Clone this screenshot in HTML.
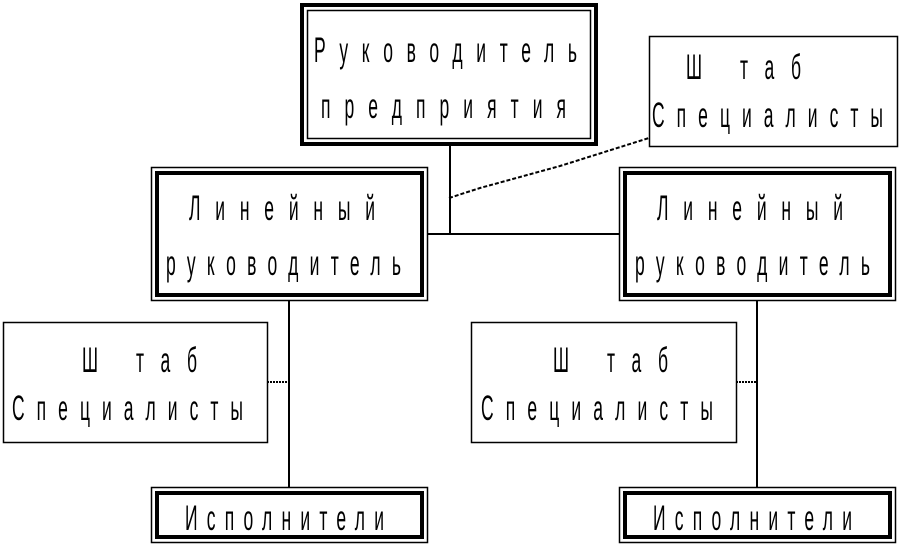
<!DOCTYPE html>
<html><head><meta charset="utf-8"><style>
html,body{margin:0;padding:0;background:#fff;}
svg{display:block}
text{font-family:"Liberation Sans",sans-serif;font-size:35px;fill:#000;}
</style></head><body>
<svg width="916" height="546" viewBox="0 0 916 546" xmlns="http://www.w3.org/2000/svg">
<g fill="none" stroke="#000">
<rect x="302" y="5" width="294" height="139" stroke-width="4"/>
<rect x="307.5" y="10.5" width="283" height="128" stroke-width="1.5"/>
<rect x="151.5" y="167.5" width="276" height="133" stroke-width="1.5"/>
<rect x="157" y="173" width="265" height="122" stroke-width="4"/>
<rect x="619.5" y="167.5" width="276" height="133" stroke-width="1.5"/>
<rect x="625" y="173" width="265" height="122" stroke-width="4"/>
<rect x="649.5" y="36.5" width="248" height="110" stroke-width="1.5"/>
<rect x="3.5" y="322.5" width="264" height="120" stroke-width="1.5"/>
<rect x="471.5" y="322.5" width="265" height="120" stroke-width="1.5"/>
<rect x="151.5" y="487.5" width="276" height="55" stroke-width="1.5"/>
<rect x="157" y="493" width="265" height="44" stroke-width="4"/>
<rect x="619.5" y="487.5" width="276" height="55" stroke-width="1.5"/>
<rect x="625" y="493" width="265" height="44" stroke-width="4"/>
<line x1="450" y1="144" x2="450" y2="235" stroke-width="2"/>
<line x1="428" y1="234" x2="620" y2="234" stroke-width="2"/>
<path d="M449 198 L480 188 L560 166 L649 138" stroke-width="2" stroke-dasharray="4,2"/>
<line x1="289" y1="301" x2="289" y2="487" stroke-width="2"/>
<line x1="267" y1="382" x2="289" y2="382" stroke-width="2" stroke-dasharray="2,1"/>
<line x1="757" y1="301" x2="757" y2="487" stroke-width="2"/>
<line x1="736" y1="382" x2="757" y2="382" stroke-width="2" stroke-dasharray="2,1"/>
</g>
<g transform="translate(314,62) scale(0.5,1)"><text x="0" y="0" textLength="526" lengthAdjust="spacing">Руководитель</text></g>
<g transform="translate(321,118) scale(0.5,1)"><text x="0" y="0" textLength="490" lengthAdjust="spacing">предприятия</text></g>
<g transform="translate(189,220) scale(0.5,1)"><text x="0" y="0" textLength="372" lengthAdjust="spacing">Линейный</text></g>
<g transform="translate(166,275) scale(0.5,1)"><text x="0" y="0" textLength="470" lengthAdjust="spacing">руководитель</text></g>
<g transform="translate(657,220) scale(0.5,1)"><text x="0" y="0" textLength="372" lengthAdjust="spacing">Линейный</text></g>
<g transform="translate(635,275) scale(0.5,1)"><text x="0" y="0" textLength="470" lengthAdjust="spacing">руководитель</text></g>
<g transform="translate(686,79) scale(0.5,1)"><text x="0" y="0">Ш</text><text x="108" y="0" textLength="122" lengthAdjust="spacing">таб</text></g>
<g transform="translate(652,127) scale(0.5,1)"><text x="0" y="0" textLength="462" lengthAdjust="spacing">Специалисты</text></g>
<g transform="translate(82,372) scale(0.5,1)"><text x="0" y="0">Ш</text><text x="108" y="0" textLength="122" lengthAdjust="spacing">таб</text></g>
<g transform="translate(12,420) scale(0.5,1)"><text x="0" y="0" textLength="462" lengthAdjust="spacing">Специалисты</text></g>
<g transform="translate(553,372) scale(0.5,1)"><text x="0" y="0">Ш</text><text x="108" y="0" textLength="122" lengthAdjust="spacing">таб</text></g>
<g transform="translate(481,420) scale(0.5,1)"><text x="0" y="0" textLength="464" lengthAdjust="spacing">Специалисты</text></g>
<g transform="translate(185,530) scale(0.5,1)"><text x="0" y="0" textLength="398" lengthAdjust="spacing">Исполнители</text></g>
<g transform="translate(653,530) scale(0.5,1)"><text x="0" y="0" textLength="398" lengthAdjust="spacing">Исполнители</text></g>
</svg>
</body></html>
